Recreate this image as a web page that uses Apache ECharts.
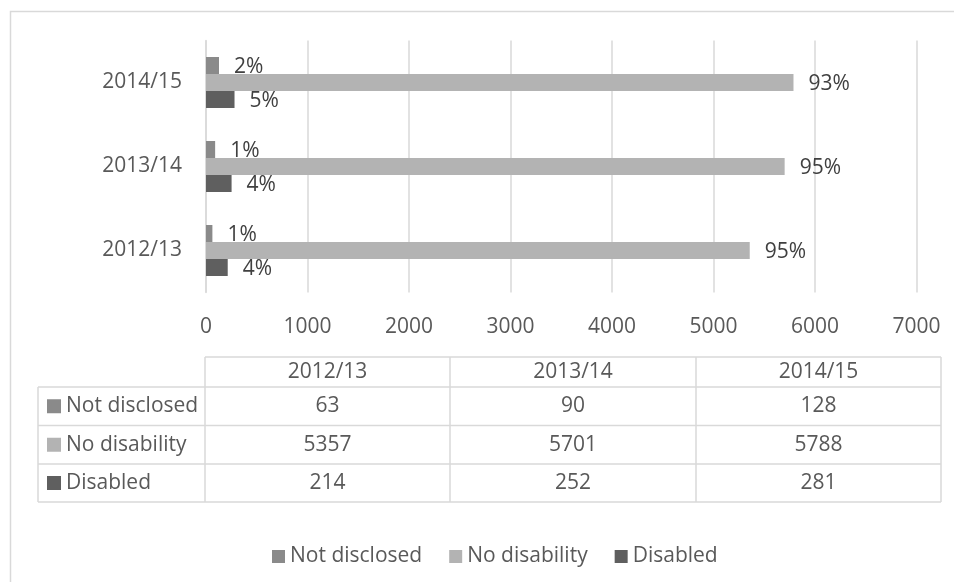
<!DOCTYPE html>
<html>
<head>
<meta charset="utf-8">
<script src="https://cdn.jsdelivr.net/npm/echarts@6/dist/echarts.min.js"></script>
<style>
  html, body { margin: 0; padding: 0; background: #fff; }
  #chart { width: 954px; height: 582px; }
</style>
</head>
<body>
<div id="chart"></div>
<script>
// Staff by disability status, per academic year
const categories = ['2012/13', '2013/14', '2014/15'];
const seriesNames = ['Not disclosed', 'No disability', 'Disabled'];
const notDisclosed = [63, 90, 128];
const noDisability = [5357, 5701, 5788];
const disabled = [214, 252, 281];
// Share of the year's total, as printed beside each bar
const notDisclosedPct = ['1%', '1%', '2%'];
const noDisabilityPct = ['95%', '95%', '93%'];
const disabledPct = ['4%', '4%', '5%'];
const xTicks = { min: 0, max: 7000, interval: 1000 };

const colors = ['#8a8a8a', '#b3b3b3', '#5f5f5f'];
const values = [notDisclosed, noDisability, disabled];
const pcts = [notDisclosedPct, noDisabilityPct, disabledPct];

const FONT = '"Open Sans", "Noto Sans", sans-serif';
const FS = 21;
const TEXT = '#595959';
const LINE = '#d9d9d9';

const chart = echarts.init(document.getElementById('chart'), null, { renderer: 'canvas' });

// Data table under the plot
const colX = [205, 450, 696, 941];
const labelColX = 38;
const rowY = [357, 387, 425.5, 464, 502];
const graphics = [];

// outer chart frame
graphics.push({
  type: 'rect', shape: { x: 10.5, y: 11.5, width: 1000, height: 1000 },
  style: { fill: 'none', stroke: LINE, lineWidth: 1.5 }, silent: true
});

function hLine(x1, x2, y) {
  graphics.push({ type: 'line', shape: { x1, y1: y, x2, y2: y }, style: { stroke: LINE, lineWidth: 1.5 }, silent: true });
}
function vLine(x, y1, y2) {
  graphics.push({ type: 'line', shape: { x1: x, y1, x2: x, y2 }, style: { stroke: LINE, lineWidth: 1.5 }, silent: true });
}
hLine(colX[0], colX[3], rowY[0]);
for (let r = 1; r < rowY.length; r++) hLine(labelColX, colX[3], rowY[r]);
vLine(labelColX, rowY[1], rowY[4]);
colX.forEach(x => vLine(x, rowY[0], rowY[4]));

function cellText(text, x, y, align) {
  graphics.push({
    type: 'text', x, y, silent: true,
    style: { text, fill: TEXT, font: FS + 'px ' + FONT, textAlign: align || 'center', textVerticalAlign: 'middle' }
  });
}
// header row
categories.forEach((c, i) => cellText(c, (colX[i] + colX[i + 1]) / 2, (rowY[0] + rowY[1]) / 2));
// series rows
seriesNames.forEach((name, r) => {
  const cy = (rowY[r + 1] + rowY[r + 2]) / 2;
  graphics.push({
    type: 'rect', shape: { x: 47, y: cy - 7, width: 14, height: 14 },
    style: { fill: colors[r] }, silent: true
  });
  cellText(name, 66, cy, 'left');
  values[r].forEach((v, i) => cellText(String(v), (colX[i] + colX[i + 1]) / 2, cy));
});

const series = seriesNames.map((name, s) => ({
  name,
  type: 'bar',
  data: values[s],
  barWidth: 17,
  barGap: '0%',
  itemStyle: { color: colors[s] },
  label: {
    show: true,
    position: 'right',
    distance: 15,
    offset: [0, 2],
    color: '#404040',
    fontFamily: FONT,
    fontSize: FS,
    formatter: p => pcts[s][p.dataIndex]
  }
}));

chart.setOption({
  backgroundColor: '#ffffff',
  animation: false,
  textStyle: { fontFamily: FONT },
  grid: { left: 206, right: 37.5, top: 40.5, bottom: 289.5, containLabel: false },
  xAxis: {
    type: 'value',
    min: xTicks.min, max: xTicks.max, interval: xTicks.interval,
    axisLine: { show: false },
    axisTick: { show: false },
    splitLine: { show: true, lineStyle: { color: LINE, width: 1.5 } },
    axisLabel: { color: TEXT, fontSize: FS, fontFamily: FONT, margin: 24, formatter: v => String(v) }
  },
  yAxis: {
    type: 'category',
    data: categories,
    axisLine: { show: true, lineStyle: { color: LINE, width: 1.5 } },
    axisTick: { show: false },
    axisLabel: { color: TEXT, fontSize: FS, fontFamily: FONT, margin: 24 }
  },
  legend: {
    data: seriesNames,
    left: 267,
    top: 541,
    itemWidth: 13,
    itemHeight: 13,
    itemGap: 27,
    icon: 'rect',
    textStyle: { color: TEXT, fontSize: FS, fontFamily: FONT }
  },
  graphic: graphics,
  series
});
</script>
</body>
</html>
